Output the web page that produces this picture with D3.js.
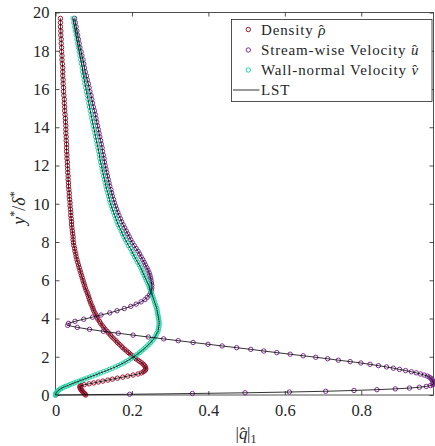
<!DOCTYPE html>
<html>
<head>
<meta charset="utf-8">
<script src="https://cdn.jsdelivr.net/npm/d3@7"></script>
<style>
  body { margin: 0; background: #fff; }
  svg text { font-family: "Liberation Serif", "Times New Roman", serif; fill: #262626; }
</style>
</head>
<body>
<svg id="chart" width="435" height="446"></svg>
<script>
// Wall-normal coordinate y*/delta* of the collocation points
const yGrid = [
  0, 0.038, 0.077, 0.116, 0.156, 0.196, 0.237, 0.278, 0.320, 0.362,
  0.405, 0.449, 0.493, 0.538, 0.584, 0.631, 0.679, 0.728, 0.778, 0.829,
  0.881, 0.934, 0.988, 1.043, 1.099, 1.157, 1.216, 1.277, 1.339, 1.403,
  1.468, 1.535, 1.604, 1.674, 1.746, 1.820, 1.896, 1.973, 2.052, 2.133,
  2.216, 2.300, 2.386, 2.474, 2.563, 2.654, 2.746, 2.840, 2.935, 3.032,
  3.130, 3.229, 3.330, 3.432, 3.535, 3.640, 3.746, 3.853, 3.961, 4.070,
  4.181, 4.293, 4.406, 4.520, 4.635, 4.752, 4.870, 4.989, 5.109, 5.231,
  5.354, 5.478, 5.604, 5.731, 5.860, 5.990, 6.121, 6.254, 6.388, 6.524,
  6.661, 6.800, 6.940, 7.082, 7.225, 7.370, 7.516, 7.664, 7.813, 7.964,
  8.116, 8.270, 8.425, 8.582, 8.740, 8.899, 9.060, 9.222, 9.386, 9.551,
  9.717, 9.885, 10.054, 10.224, 10.396, 10.569, 10.743, 10.918, 11.095, 11.273,
  11.452, 11.632, 11.814, 11.997, 12.181, 12.366, 12.552, 12.739, 12.927, 13.116,
  13.306, 13.497, 13.689, 13.882, 14.076, 14.271, 14.467, 14.664, 14.862, 15.061,
  15.261, 15.462, 15.664, 15.867, 16.071, 16.276, 16.482, 16.689, 16.897, 17.106,
  17.316, 17.527, 17.739, 17.952, 18.166, 18.381, 18.597, 18.814, 19.032, 19.251,
  19.471, 19.692
];

// Eigenfunction amplitudes |q^| at each point
const rhoAmp = [
  0.079, 0.077, 0.076, 0.074, 0.072, 0.070, 0.069, 0.067, 0.066, 0.065,
  0.064, 0.064, 0.067, 0.075, 0.088, 0.100, 0.112, 0.124, 0.137, 0.149,
  0.162, 0.176, 0.189, 0.203, 0.216, 0.225, 0.230, 0.234, 0.236, 0.236,
  0.235, 0.233, 0.230, 0.226, 0.221, 0.216, 0.210, 0.206, 0.201, 0.196,
  0.191, 0.186, 0.181, 0.176, 0.172, 0.167, 0.162, 0.158, 0.153, 0.148,
  0.144, 0.139, 0.135, 0.130, 0.126, 0.122, 0.118, 0.115, 0.111, 0.108,
  0.106, 0.103, 0.100, 0.098, 0.096, 0.093, 0.091, 0.089, 0.087, 0.085,
  0.083, 0.080, 0.078, 0.076, 0.074, 0.072, 0.070, 0.068, 0.066, 0.064,
  0.062, 0.060, 0.058, 0.056, 0.054, 0.053, 0.051, 0.050, 0.048, 0.047,
  0.046, 0.046, 0.045, 0.044, 0.043, 0.042, 0.042, 0.041, 0.040, 0.040,
  0.039, 0.038, 0.038, 0.037, 0.036, 0.036, 0.035, 0.034, 0.034, 0.033,
  0.033, 0.032, 0.032, 0.031, 0.031, 0.030, 0.030, 0.029, 0.029, 0.029,
  0.028, 0.028, 0.027, 0.027, 0.027, 0.026, 0.026, 0.025, 0.024, 0.024,
  0.023, 0.023, 0.022, 0.021, 0.021, 0.020, 0.020, 0.019, 0.019, 0.019,
  0.018, 0.017, 0.017, 0.016, 0.016, 0.015, 0.015, 0.014, 0.014, 0.013,
  0.013, 0.013
];

const uAmp = [
  0, 0.194, 0.358, 0.496, 0.612, 0.707, 0.781, 0.841, 0.889, 0.926,
  0.952, 0.970, 0.981, 0.987, 0.989, 0.989, 0.988, 0.987, 0.986, 0.984,
  0.982, 0.978, 0.973, 0.965, 0.955, 0.944, 0.931, 0.916, 0.900, 0.884,
  0.866, 0.845, 0.823, 0.799, 0.771, 0.740, 0.712, 0.681, 0.648, 0.614,
  0.579, 0.545, 0.511, 0.474, 0.436, 0.399, 0.360, 0.321, 0.283, 0.243,
  0.203, 0.164, 0.125, 0.089, 0.057, 0.032, 0.034, 0.051, 0.074, 0.097,
  0.119, 0.142, 0.161, 0.180, 0.197, 0.211, 0.224, 0.234, 0.240, 0.246,
  0.249, 0.251, 0.252, 0.252, 0.251, 0.250, 0.249, 0.247, 0.245, 0.242,
  0.239, 0.235, 0.232, 0.228, 0.224, 0.220, 0.216, 0.211, 0.206, 0.201,
  0.197, 0.193, 0.189, 0.185, 0.181, 0.177, 0.173, 0.170, 0.166, 0.163,
  0.160, 0.157, 0.154, 0.152, 0.149, 0.147, 0.145, 0.142, 0.140, 0.138,
  0.136, 0.134, 0.132, 0.130, 0.128, 0.127, 0.125, 0.123, 0.122, 0.120,
  0.118, 0.116, 0.114, 0.112, 0.110, 0.108, 0.106, 0.104, 0.102, 0.099,
  0.097, 0.095, 0.093, 0.090, 0.088, 0.086, 0.083, 0.081, 0.078, 0.076,
  0.074, 0.072, 0.069, 0.067, 0.064, 0.062, 0.060, 0.058, 0.056, 0.054,
  0.052, 0.050
];

const vAmp = [
  0, 0.000, 0.001, 0.002, 0.003, 0.005, 0.007, 0.010, 0.013, 0.017,
  0.021, 0.026, 0.032, 0.037, 0.043, 0.049, 0.055, 0.062, 0.068, 0.075,
  0.082, 0.089, 0.096, 0.104, 0.111, 0.118, 0.126, 0.134, 0.141, 0.149,
  0.157, 0.164, 0.171, 0.178, 0.184, 0.191, 0.197, 0.203, 0.209, 0.214,
  0.220, 0.225, 0.230, 0.235, 0.240, 0.245, 0.249, 0.253, 0.257, 0.260,
  0.263, 0.265, 0.268, 0.269, 0.270, 0.271, 0.271, 0.271, 0.270, 0.269,
  0.268, 0.267, 0.266, 0.265, 0.263, 0.261, 0.259, 0.257, 0.255, 0.253,
  0.251, 0.248, 0.246, 0.244, 0.241, 0.238, 0.235, 0.232, 0.229, 0.226,
  0.223, 0.219, 0.215, 0.211, 0.207, 0.203, 0.200, 0.196, 0.191, 0.187,
  0.183, 0.179, 0.175, 0.172, 0.168, 0.164, 0.161, 0.158, 0.155, 0.152,
  0.149, 0.146, 0.143, 0.141, 0.139, 0.137, 0.134, 0.132, 0.130, 0.128,
  0.126, 0.124, 0.122, 0.120, 0.118, 0.116, 0.115, 0.113, 0.111, 0.109,
  0.107, 0.105, 0.103, 0.101, 0.099, 0.097, 0.095, 0.093, 0.091, 0.089,
  0.087, 0.085, 0.083, 0.081, 0.079, 0.077, 0.075, 0.073, 0.071, 0.070,
  0.068, 0.066, 0.064, 0.062, 0.060, 0.058, 0.056, 0.054, 0.052, 0.050,
  0.048, 0.046
];

const xLimits = [0, 0.989];
const yLimits = [0, 20];
const xTicks = [0, 0.2, 0.4, 0.6, 0.8];
const xTickLabels = ["0", "0.2", "0.4", "0.6", "0.8"];
const yTicks = [0, 2, 4, 6, 8, 10, 12, 14, 16, 18, 20];
const seriesNames = ["Density", "Stream-wise Velocity", "Wall-normal Velocity"];
const seriesSymbols = ["\u03C1", "u", "v"];
const seriesColors = ["#a2142f", "#7e2f8e", "#1fd6a7"];
const lineLabel = "LST";

const series = [rhoAmp, uAmp, vAmp].map((vals, k) => ({
  name: seriesNames[k],
  symbol: seriesSymbols[k],
  color: seriesColors[k],
  points: vals.map((v, i) => [v, yGrid[i]])
}));

const svg = d3.select("#chart");
const plot = { left: 55.5, right: 433.5, top: 12.5, bottom: 395 };
const axisColor = "#262626";

const x = d3.scaleLinear().domain(xLimits).range([plot.left, plot.right]);
const y = d3.scaleLinear().domain(yLimits).range([plot.bottom, plot.top]);

// Axes with inward ticks on all four sides
const tickLen = 4;
const gx = svg.append("g").attr("transform", `translate(0,${plot.bottom})`)
  .call(d3.axisBottom(x).tickValues(xTicks).tickFormat((d, i) => xTickLabels[i])
    .tickSizeInner(-tickLen).tickSizeOuter(0).tickPadding(9));
const gxTop = svg.append("g").attr("transform", `translate(0,${plot.top})`)
  .call(d3.axisTop(x).tickValues(xTicks).tickFormat("").tickSizeInner(-tickLen).tickSizeOuter(0));
const gy = svg.append("g").attr("transform", `translate(${plot.left},0)`)
  .call(d3.axisLeft(y).tickValues(yTicks).tickFormat(d3.format("d"))
    .tickSizeInner(-tickLen).tickSizeOuter(0).tickPadding(6));
const gyRight = svg.append("g").attr("transform", `translate(${plot.right},0)`)
  .call(d3.axisRight(y).tickValues(yTicks).tickFormat("").tickSizeInner(-tickLen).tickSizeOuter(0));

[gx, gxTop, gy, gyRight].forEach(g => {
  g.select(".domain").remove();
  g.selectAll(".tick line").attr("stroke", axisColor).attr("stroke-width", 0.8);
  g.selectAll(".tick text").attr("font-family", "Liberation Serif").attr("font-size", 16.5).attr("fill", axisColor);
});

// Frame
svg.append("rect")
  .attr("x", plot.left).attr("y", plot.top)
  .attr("width", plot.right - plot.left).attr("height", plot.bottom - plot.top)
  .attr("fill", "none").attr("stroke", axisColor).attr("stroke-width", 0.8);

// Markers for each quantity
const markerR = 2.2;
series.forEach(s => {
  svg.append("g").selectAll("circle").data(s.points).join("circle")
    .attr("cx", d => x(d[0])).attr("cy", d => y(d[1]))
    .attr("r", markerR)
    .attr("fill", "none").attr("stroke", s.color).attr("stroke-width", 1);
});

// LST curves
const line = d3.line().x(d => x(d[0])).y(d => y(d[1]));
series.forEach(s => {
  svg.append("path").datum(s.points)
    .attr("d", line).attr("fill", "none")
    .attr("stroke", "#000").attr("stroke-width", 0.8);
});

// Italic letter with a circumflex placed over it
function hatted(textSel, letter, back, after) {
  textSel.append("tspan").attr("font-style", "italic").text(letter);
  textSel.append("tspan").attr("dx", -back).attr("font-style", "normal").text("\u02C6");
  if (after !== undefined) return textSel.append("tspan").attr("dx", after);
}

// Axis labels
const xl = svg.append("text").attr("x", 246).attr("y", 439).attr("text-anchor", "middle")
  .attr("font-size", 17);
xl.append("tspan").text("|");
hatted(xl, "q", 7.5, 1.5).text("|");
xl.append("tspan").attr("font-size", 12).attr("dy", 3.5).text("1");

const yl = svg.append("text").attr("transform", "translate(25,208) rotate(-90)")
  .attr("text-anchor", "middle").attr("font-size", 18);
yl.append("tspan").attr("font-style", "italic").text("y");
yl.append("tspan").attr("font-size", 12).attr("dy", -7).text("*");
yl.append("tspan").attr("dy", 7).text("/");
yl.append("tspan").attr("font-style", "italic").text("\u03B4");
yl.append("tspan").attr("font-size", 12).attr("dy", -7).text("*");

// Legend
const lg = svg.append("g");
lg.append("rect").attr("x", 231.5).attr("y", 19.5).attr("width", 200.5).attr("height", 82)
  .attr("fill", "#fff").attr("stroke", axisColor).attr("stroke-width", 0.8);
const rowY = [29.5, 50, 70, 90];
const hatBack = [7.5, 7.5, 6.8];
series.forEach((s, k) => {
  lg.append("circle").attr("cx", 248.3).attr("cy", rowY[k]).attr("r", markerR)
    .attr("fill", "none").attr("stroke", s.color).attr("stroke-width", 1);
  const t = lg.append("text").attr("x", 261).attr("y", rowY[k] + 5)
    .attr("font-size", 15).attr("letter-spacing", 0.85);
  t.append("tspan").text(s.name + " ");
  hatted(t, s.symbol, hatBack[k]);
});
lg.append("line").attr("x1", 233).attr("x2", 259.5).attr("y1", rowY[3]).attr("y2", rowY[3])
  .attr("stroke", "#000").attr("stroke-width", 0.8);
lg.append("text").attr("x", 261).attr("y", rowY[3] + 5).attr("font-size", 15)
  .attr("letter-spacing", 0.85).text(lineLabel);
</script>
</body>
</html>
